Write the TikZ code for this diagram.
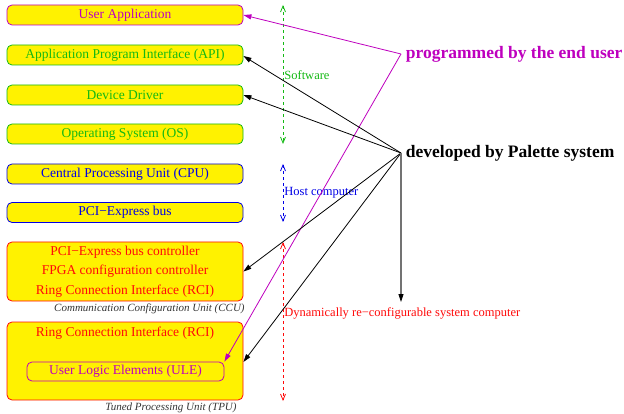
\documentclass[tikz,border=0pt]{standalone}
\usepackage{fontspec}
\setmainfont{Liberation Serif}
\usetikzlibrary{arrows.meta,positioning}

\definecolor{usermag}{RGB}{190,0,190}
\definecolor{swgreen}{RGB}{20,185,20}
\definecolor{hostblue}{RGB}{0,0,230}
\definecolor{recred}{RGB}{255,10,10}

\begin{document}
\begin{tikzpicture}[x=1pt,y=-1pt,line width=0.8pt]
\tikzstyle{layer} = [rectangle, draw, fill=yellow, rounded corners=5pt,
minimum width=236pt, minimum height=20pt, inner sep=0pt,
font=\fontsize{13.5}{19.5}\selectfont]
\tikzstyle{unitcap} = [anchor=east, inner sep=0pt, text=black!80,
font=\fontsize{11}{13}\selectfont\itshape]
\tikzstyle{spanarrow} = [dashed, {Straight Barb[length=6pt,width=5pt]}-{Straight Barb[length=6pt,width=5pt]}]
\tikzstyle{spanlabel} = [anchor=west, inner sep=1pt, font=\fontsize{12.5}{14}\selectfont]
\tikzstyle{notetext} = [anchor=west, inner sep=4.5pt, font=\fontsize{17.5}{20}\selectfont\bfseries]
\tikzstyle{line} = [draw, -{Triangle[length=8pt,width=5pt]}]

\useasboundingbox (0,0) rectangle (624,414);

% software layers
\node [layer, draw=usermag, text=usermag] (app) at (125,15) {User Application};
\node [layer, draw=swgreen, text=swgreen] (api) at (125,55) {Application Program Interface (API)};
\node [layer, draw=swgreen, text=swgreen] (drv) at (125,95) {Device Driver};
\node [layer, draw=swgreen, text=swgreen] (os) at (125,134) {Operating System (OS)};
% host computer
\node [layer, draw=hostblue, text=hostblue] (cpu) at (125,174) {Central Processing Unit (CPU)};
\node [layer, draw=hostblue, text=hostblue] (pci) at (125,212.5) {PCI−Express bus};
% re-configurable part
\node [layer, draw=recred, text=recred, minimum height=59pt, align=center] (ccu) at (125,271.5)
{PCI−Express bus controller\\FPGA configuration controller\\Ring Connection Interface (RCI)};
\node [unitcap] (ccucap) at (245,309) {Communication Configuration Unit (CCU)};
\node [layer, draw=recred, minimum height=78pt] (tpu) at (125,361) {};
\node [text=recred, font=\fontsize{13.5}{16}\selectfont] (rci) at (125,333) {Ring Connection Interface (RCI)};
\node [layer, draw=usermag, text=usermag, minimum width=197pt, minimum height=19pt] (ule) at (125.5,371.5) {User Logic Elements (ULE)};
\node [unitcap] (tpucap) at (237,407.5) {Tuned Processing Unit (TPU)};

% ranges
\coordinate (swtop) at (283,5);
\coordinate (swbot) at (283,144);
\coordinate (hosttop) at (283,164);
\coordinate (hostbot) at (283,222);
\coordinate (rectop) at (283,242);
\coordinate (recbot) at (283,401);
\draw [spanarrow, swgreen] (swtop) -- (swbot);
\draw [spanarrow, hostblue] (hosttop) -- (hostbot);
\draw [spanarrow, recred] (rectop) -- (recbot);
\node [spanlabel, text=swgreen] (swlabel) at (283,75) {Software};
\node [spanlabel, text=hostblue] (hostlabel) at (283,193) {Host computer};
\node [spanlabel, text=recred] (reclabel) at (283,313) {Dynamically re−configurable system computer};

% who writes what
\node [notetext, text=usermag] (prog) at (401,54) {programmed by the end user};
\node [notetext] (dev) at (401,153) {developed by Palette system};
\coordinate (devend) at (401,302);

\path [line, draw=usermag, usermag] (prog.west) -- (app.east);
\path [line, draw=usermag, usermag] (prog.west) -- (ule.north east);
\path [line] (dev.west) -- ([yshift=-1pt]api.east);
\path [line] (dev.west) -- (drv.east);
\path [line] (dev.west) -- (ccu.east);
\path [line] (dev.west) -- ([yshift=-1pt]tpu.east);
\path [draw, draw=black!55, line width=1.3pt, -{Triangle[length=8pt,width=5pt,black,line width=0.8pt]}] (dev.west) -- (devend);

\end{tikzpicture}
\end{document}
